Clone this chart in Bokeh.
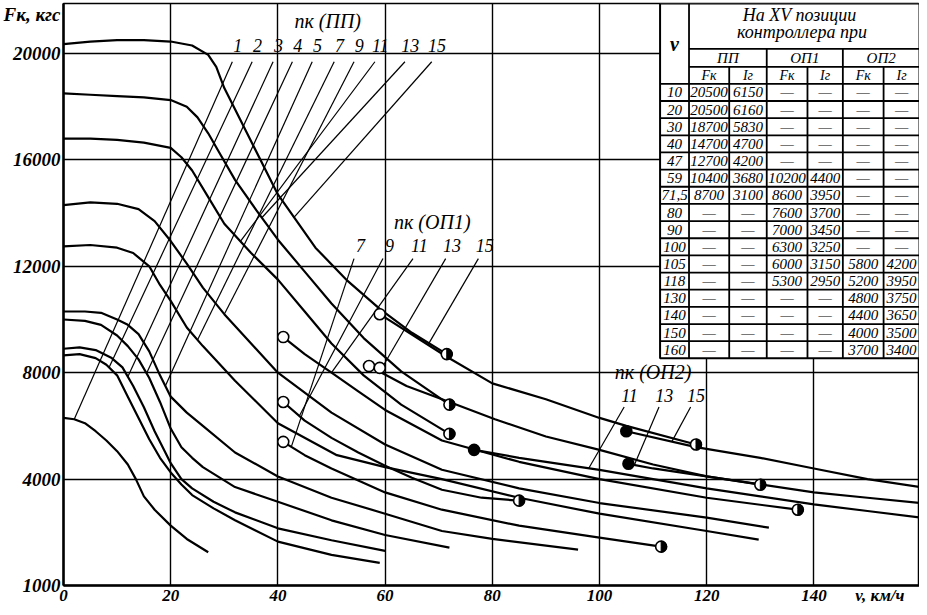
import numpy as np
from bokeh.plotting import figure
from bokeh.models import Range1d, FixedTicker
from bokeh.core.properties import value
from bokeh.embed import file_html
from bokeh.resources import INLINE

# ---------------- data (v in km/h, F in kgf) ----------------
# series connection (ПП), notch positions
PP1_v = [0, 2, 4, 6, 8, 10, 12, 13.5, 15, 17, 20, 23, 27]
PP1_F = [6300, 6250, 6100, 5800, 5450, 5050, 4550, 4000, 3350, 2850, 2250, 1750, 1250]
PP2_v = [0, 3, 6, 8, 10, 12, 14, 16, 18, 20, 22, 24, 28, 32, 40, 50, 59]
PP2_F = [8650, 8700, 8550, 8300, 7900, 7100, 6300, 5500, 4800, 4250, 3800, 3400, 2900, 2450, 1650, 1150, 850]
PP3_v = [0, 3, 6, 9, 11, 13, 15, 17, 19, 20, 22, 24, 28, 32, 40, 50, 60]
PP3_F = [8900, 8950, 8850, 8550, 8200, 7500, 6700, 5800, 5000, 4600, 4000, 3650, 3150, 2750, 2150, 1700, 1300]
PP4_v = [0, 4, 7, 10, 12, 14, 16, 18, 20, 22, 24, 26, 32, 40, 50, 60, 72]
PP4_F = [10000, 9950, 9800, 9400, 9000, 8500, 7800, 6900, 5900, 5200, 4800, 4450, 3700, 3150, 2450, 1900, 1425]
PP5_v = [0, 4, 7, 10, 12, 14, 16, 18, 20, 23, 26, 32, 40, 50, 60, 70.6, 80, 96]
PP5_F = [10300, 10300, 10250, 10000, 9800, 9450, 8800, 7900, 7100, 6500, 6000, 5000, 4100, 3300, 2700, 2050, 1750, 1350]
PP7_v = [0, 5, 10, 13, 16, 18, 20, 23, 26, 32, 40, 51, 60, 70.6, 85, 100, 120, 129.7]
PP7_F = [12750, 12800, 12700, 12500, 12000, 11300, 10700, 9700, 9000, 7700, 6100, 4900, 4450, 4000, 3300, 2700, 2050, 1725]
PP9_v = [0, 5, 10, 14, 17, 20, 23, 26, 30, 35, 40, 50, 60, 70.6, 85, 100, 120, 131.6]
PP9_F = [14300, 14400, 14350, 14150, 13700, 12950, 12100, 11200, 10200, 9100, 8000, 6500, 5300, 4350, 3650, 3100, 2550, 2175]
PP11_v = [0, 5, 10, 15, 20, 22, 24, 27, 30, 35, 40, 45, 50, 56, 63, 72]
PP11_F = [16800, 16800, 16750, 16650, 16450, 16100, 15600, 14600, 13600, 12500, 11500, 10300, 9100, 7900, 6800, 5700]
PP13_v = [0, 5, 10, 15, 20, 23, 25, 27, 29, 32, 36, 40, 45, 50, 56, 63, 72]
PP13_F = [18500, 18450, 18400, 18350, 18250, 18000, 17600, 17000, 16300, 15250, 14100, 13000, 11800, 10600, 9300, 8050, 6800]
PP15_v = [0, 5, 10, 15, 20, 24, 27, 28.5, 30, 32, 35, 40, 47, 53, 59, 65, 71.5]
PP15_F = [20350, 20450, 20500, 20500, 20450, 20300, 19950, 19500, 18700, 17900, 16700, 14700, 12700, 11450, 10400, 9500, 8700]

# first stage of field weakening (ОП1)
OP1_7_v = [41, 45, 50, 55, 60, 70.6, 85, 100, 111.5]
OP1_7_F = [5400, 4900, 4400, 3950, 3500, 2850, 2250, 1800, 1460]
OP1_9_v = [41, 45, 50, 55, 60, 65, 70.6, 78, 85]
OP1_9_F = [6900, 6200, 5550, 5000, 4500, 4050, 3600, 3300, 3190]
OP1_11_v = [41, 45, 50, 55, 60, 70.6, 85, 100, 120, 137]
OP1_11_F = [9340, 8700, 8000, 7300, 6600, 5450, 4650, 4000, 3300, 2850]
OP1_13_v = [57, 64, 72, 80.5, 90, 100, 110, 120, 130]
OP1_13_F = [8250, 7500, 6900, 6250, 5600, 5100, 4550, 4100, 3790]
OP1_15_v = [59, 71.5, 80, 90, 100, 105, 118]
OP1_15_F = [10200, 8600, 7600, 7000, 6300, 6000, 5300]

# second stage of field weakening (ОП2)
OP2_11_v = [76.6, 85, 90, 100, 110, 120, 130, 140, 150, 160]
OP2_11_F = [5100, 4800, 4650, 4350, 4000, 3650, 3350, 3050, 2800, 2550]
OP2_13_v = [105.4, 110, 120, 130, 140, 150, 160]
OP2_13_F = [4575, 4400, 4100, 3800, 3500, 3300, 3100]
OP2_15_v = [105, 118, 130, 140, 150, 160]
OP2_15_F = [5800, 5200, 4800, 4400, 4000, 3700]

# extra open circle
OPEN_EXTRA_v = [59]
OPEN_EXTRA_F = [8180]

# notch labels
PP_NOTCHES = ["1", "2", "3", "4", "5", "7", "9", "11", "13", "15"]
OP1_NOTCHES = ["7", "9", "11", "13", "15"]
OP2_NOTCHES = ["11", "13", "15"]

# table
TAB_V = ["10", "20", "30", "40", "47", "59", "71,5", "80", "90", "100", "105", "118", "130", "140", "150", "160"]
TAB_PP_F = ["20500", "20500", "18700", "14700", "12700", "10400", "8700", "—", "—", "—", "—", "—", "—", "—", "—", "—"]
TAB_PP_I = ["6150", "6160", "5830", "4700", "4200", "3680", "3100", "—", "—", "—", "—", "—", "—", "—", "—", "—"]
TAB_OP1_F = ["—", "—", "—", "—", "—", "10200", "8600", "7600", "7000", "6300", "6000", "5300", "—", "—", "—", "—"]
TAB_OP1_I = ["—", "—", "—", "—", "—", "4400", "3950", "3700", "3450", "3250", "3150", "2950", "—", "—", "—", "—"]
TAB_OP2_F = ["—", "—", "—", "—", "—", "—", "—", "—", "—", "—", "5800", "5200", "4800", "4400", "4000", "3700"]
TAB_OP2_I = ["—", "—", "—", "—", "—", "—", "—", "—", "—", "—", "4200", "3950", "3750", "3650", "3500", "3400"]

X_TICKS = [0, 20, 40, 60, 80, 100, 120, 140]
Y_TICKS = [0, 4000, 8000, 12000, 16000, 20000]
Y_TICK_OVERRIDE = {0: "1000"}
X_TITLE, Y_TITLE = "v, км/ч", "Fк, кгс"

# ---------------- layout / style ----------------
FONT = "Liberation Sans Narrow"
XMAX, YMAX = 159.7, 21880
X_TITLE_POS, Y_TITLE_POS = 152.3, 21450

p = figure(width=919, height=607, output_backend="svg", toolbar_location=None,
           x_range=Range1d(0, XMAX), y_range=Range1d(0, YMAX),
           min_border_left=60, min_border_right=0, min_border_top=3, min_border_bottom=21)
p.background_fill_color = "white"
p.border_fill_color = "white"
p.outline_line_color = "black"
p.outline_line_width = 1.5

# axis tickers also carry the axis titles; grids use only the numeric ticks
p.xaxis.ticker = FixedTicker(ticks=X_TICKS + [X_TITLE_POS])
p.yaxis.ticker = FixedTicker(ticks=Y_TICKS + [Y_TITLE_POS])
x_over = {X_TITLE_POS: X_TITLE}
y_over = dict(Y_TICK_OVERRIDE)
y_over[Y_TITLE_POS] = Y_TITLE
p.xaxis.major_label_overrides = x_over
p.yaxis.major_label_overrides = y_over
p.xgrid.ticker = FixedTicker(ticks=X_TICKS)
p.ygrid.ticker = FixedTicker(ticks=Y_TICKS)
for ax in (p.xaxis[0], p.yaxis[0]):
    ax.axis_label = None
    ax.axis_label_standoff = 0
    ax.axis_line_width = 2.5
    ax.axis_line_color = "black"
    ax.major_tick_line_color = None
    ax.minor_tick_line_color = None
    ax.major_tick_out = 0
    ax.major_tick_in = 0
    ax.minor_tick_out = 0
    ax.minor_tick_in = 0
    ax.major_label_text_font = FONT
    ax.major_label_text_font_style = "bold italic"
    ax.major_label_text_color = "black"
p.yaxis.major_label_text_font_size = "19px"
p.yaxis.major_label_standoff = 3
p.xaxis.major_label_text_font_size = "17px"
p.xaxis.major_label_standoff = 0
p.xgrid.grid_line_color = "black"
p.ygrid.grid_line_color = "black"
p.xgrid.grid_line_width = 1.4
p.ygrid.grid_line_width = 1.4
p.xgrid.grid_line_alpha = 1
p.ygrid.grid_line_alpha = 1

PP = [(PP1_v, PP1_F), (PP2_v, PP2_F), (PP3_v, PP3_F), (PP4_v, PP4_F), (PP5_v, PP5_F),
      (PP7_v, PP7_F), (PP9_v, PP9_F), (PP11_v, PP11_F), (PP13_v, PP13_F), (PP15_v, PP15_F)]
OP1 = [(OP1_7_v, OP1_7_F), (OP1_9_v, OP1_9_F), (OP1_11_v, OP1_11_F), (OP1_13_v, OP1_13_F), (OP1_15_v, OP1_15_F)]
OP2 = [(OP2_11_v, OP2_11_F), (OP2_13_v, OP2_13_F), (OP2_15_v, OP2_15_F)]

for v, F in PP + OP1 + OP2:
    p.line(v, F, line_color="black", line_width=2.2)

# leader lines: label anchor -> point on curve (speed where it touches)
PP_LAB_V = [32.5, 36.2, 40.1, 43.7, 47.4, 51.5, 55.2, 59.1, 64.7, 69.7]
PP_LAB_F = 20290
PP_TOUCH_V = [2, 8.5, 12, 15.5, 19, 25, 30, 33, 37, 43]
OP1_LAB_V = [55.4, 60.8, 66.4, 72.5, 78.6]
OP1_LAB_F = 12790
OP1_TOUCH_V = [42.5, 44, 50, 59, 68]
OP2_LAB_V = [105.6, 112.1, 118.0]
OP2_LAB_F = 7160
OP2_TOUCH_V = [98, 106.5, 113.5]

def leaders(lab_v, lab_f, touch_v, curves, dv, dF):
    x0, y0, x1, y1 = [], [], [], []
    for lv, tv, (cv, cF) in zip(lab_v, touch_v, curves):
        x0.append(lv + dv); y0.append(lab_f + dF)
        x1.append(tv); y1.append(float(np.interp(tv, cv, cF)))
    p.segment(x0, y0, x1, y1, line_color="black", line_width=1.2)

leaders(PP_LAB_V, PP_LAB_F, PP_TOUCH_V, PP, -1.0, -600)
leaders(OP1_LAB_V, OP1_LAB_F, OP1_TOUCH_V, OP1, -1.2, -500)
leaders(OP2_LAB_V, OP2_LAB_F, OP2_TOUCH_V, OP2, -1.0, -450)

# circles
open_v = [c[0][0] for c in OP1] + OPEN_EXTRA_v
open_F = [c[1][0] for c in OP1] + OPEN_EXTRA_F
half_v = [c[0][-1] for c in PP[7:]] + [c[0][-1] for c in OP1]
half_F = [c[1][-1] for c in PP[7:]] + [c[1][-1] for c in OP1]
full_v = [c[0][0] for c in OP2]
full_F = [c[1][0] for c in OP2]

p.scatter(open_v, open_F, size=11, marker="circle", fill_color="white", line_color="black", line_width=1.6)
p.scatter(half_v, half_F, size=11, marker="circle", fill_color="white", line_color="black", line_width=1.6)
p.wedge(half_v, half_F, radius=5.5, radius_units="screen", start_angle=-np.pi / 2, end_angle=np.pi / 2,
        fill_color="black", line_color="black")
p.scatter(full_v, full_F, size=11, marker="circle", fill_color="black", line_color="black", line_width=1.6)

# labels
def txt(x, y, t, size="16px", style="italic", align="center", baseline="middle"):
    p.text(x=x, y=y, text=t, text_font=value(FONT), text_font_size=size, text_font_style=style,
           text_align=align, text_baseline=baseline, text_color="black")

txt(PP_LAB_V, [PP_LAB_F] * len(PP_LAB_V), PP_NOTCHES, size="18px")
txt(OP1_LAB_V, [OP1_LAB_F] * len(OP1_LAB_V), OP1_NOTCHES, size="18px")
txt(OP2_LAB_V, [OP2_LAB_F] * len(OP2_LAB_V), OP2_NOTCHES, size="18px")
txt([49.3], [21225], ["nк (ПП)"], size="20px")
txt([68.8], [13650], ["nк (ОП1)"], size="20px")

# table (drawn in data space)
T_COLS = [111.3, 116.7, 124.2, 131.2, 138.8, 145.4, 153.0, XMAX]
T_TOP = YMAX
T_H1, T_H2, T_H3 = 20175, 19500, 18860
ROW_H = 645
n_rows = len(TAB_V)
T_BOT = T_H3 - n_rows * ROW_H

txt([110.0], [8020], ["nк (ОП2)"], size="20px")
p.quad(left=[T_COLS[0]], right=[T_COLS[-1]], top=[T_TOP], bottom=[T_BOT],
       fill_color="white", line_color="black", line_width=2)
hx0, hy0, hx1, hy1 = [], [], [], []
for yy, xa in [(T_H1, T_COLS[1]), (T_H2, T_COLS[1]), (T_H3, T_COLS[0])]:
    hx0.append(xa); hx1.append(T_COLS[-1]); hy0.append(yy); hy1.append(yy)
for i in range(1, n_rows):
    yy = T_H3 - i * ROW_H
    hx0.append(T_COLS[0]); hx1.append(T_COLS[-1]); hy0.append(yy); hy1.append(yy)
p.segment(hx0, hy0, hx1, hy1, line_color="black", line_width=1.8)
vx, vy0, vy1 = [], [], []
vx.append(T_COLS[1]); vy0.append(T_TOP); vy1.append(T_BOT)
for c in (3, 5):
    vx.append(T_COLS[c]); vy0.append(T_H1); vy1.append(T_BOT)
for c in (2, 4, 6):
    vx.append(T_COLS[c]); vy0.append(T_H2); vy1.append(T_BOT)
p.segment(vx, vy0, vx, vy1, line_color="black", line_width=1.8)

mid = lambda a, b: (a + b) / 2
txt([mid(T_COLS[1], T_COLS[-1])], [21440], ["На  XV  позиции"], size="18px")
txt([mid(T_COLS[1], T_COLS[-1])], [20800], ["контроллера  при"], size="18px")
txt([mid(T_COLS[0], T_COLS[1])], [20350], ["v"], size="20px", style="bold italic")
txt([mid(T_COLS[1], T_COLS[3]), mid(T_COLS[3], T_COLS[5]), mid(T_COLS[5], T_COLS[7])],
    [mid(T_H1, T_H2)] * 3, ["ПП", "ОП1", "ОП2"], size="15px")
txt([mid(T_COLS[c], T_COLS[c + 1]) for c in range(1, 7)], [mid(T_H2, T_H3)] * 6,
    ["Fк", "Iг", "Fк", "Iг", "Fк", "Iг"], size="14px")
row_y = [T_H3 - (i + 0.5) * ROW_H for i in range(n_rows)]
txt([mid(T_COLS[0], T_COLS[1])] * n_rows, row_y, TAB_V, size="15px")
for c, col in enumerate([TAB_PP_F, TAB_PP_I, TAB_OP1_F, TAB_OP1_I, TAB_OP2_F, TAB_OP2_I]):
    txt([mid(T_COLS[c + 1], T_COLS[c + 2])] * n_rows, row_y, col, size="15px")

open("out.html", "w").write(file_html(p, INLINE))
